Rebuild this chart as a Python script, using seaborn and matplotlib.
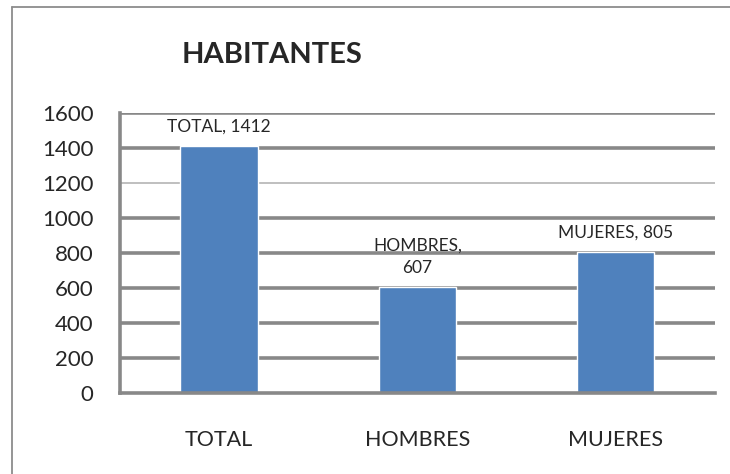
import matplotlib
matplotlib.use("Agg")
import matplotlib.pyplot as plt
from matplotlib.lines import Line2D
from matplotlib import font_manager
import seaborn as sns
import pandas as pd

categorias = ["TOTAL", "HOMBRES", "MUJERES"]
habitantes = [1412, 607, 805]
etiquetas = ["TOTAL, 1412", "HOMBRES,\n607", "MUJERES, 805"]
ticks_y = [0, 200, 400, 600, 800, 1000, 1200, 1400, 1600]

df = pd.DataFrame({"categoria": categorias, "habitantes": habitantes})

sns.set_style("white")
plt.rcParams["font.family"] = ["Lato", "DejaVu Sans"]

fig = plt.figure(figsize=(7.3, 4.74), dpi=100)
ax = fig.add_axes([0.1644, 0.1709, 0.815, 0.5907])

sns.barplot(ax=ax, data=df, x="categoria", y="habitantes", color="#4F81BD",
            width=0.39, saturation=1)

# lineas de la cuadricula (la de 1200 sale mas fina en el original)
for t in ticks_y[1:]:
    if t == 1200:
        ax.axhline(t, color="#b4b4b4", lw=1.2, zorder=0)
    else:
        ax.axhline(t, color="#888888", lw=2.6, zorder=0)

ax.set_ylim(0, 1600)
ax.set_xlim(-0.5, 2.5)
ax.set_yticks(ticks_y)
ax.set_yticklabels([str(t) for t in ticks_y], fontsize=16)
ax.tick_params(axis="y", length=0, pad=19)
ax.tick_params(axis="x", length=0, pad=27, labelsize=15.5)
ax.set_xlabel("")
ax.set_ylabel("")

for s in ["top", "right"]:
    ax.spines[s].set_visible(False)
for s in ["left", "bottom"]:
    ax.spines[s].set_color("#888888")
    ax.spines[s].set_linewidth(2.6)

for i, (v, txt) in enumerate(zip(habitantes, etiquetas)):
    ax.annotate(txt, xy=(i, v), xytext=(0, 8), textcoords="offset points",
                ha="center", va="bottom", fontsize=12.5, linespacing=1.5)

nombres = {f.name for f in font_manager.fontManager.ttflist}
if "Liberation Sans Narrow" in nombres:
    fam_titulo, tam_titulo = ["Liberation Sans Narrow"], 25
else:
    fam_titulo, tam_titulo = ["Lato"], 21
fig.text(272 / 730, 1 - 55 / 474, "HABITANTES", ha="center", va="center",
         fontsize=tam_titulo, fontweight="bold", family=fam_titulo)

# marco del grafico (solo se ven el borde izquierdo y el superior)
x0, y0 = 12 / 730, 1 - 7 / 474
fig.add_artist(Line2D([x0, x0], [0, y0], transform=fig.transFigure,
                      color="#8c8c8c", lw=1.3))
fig.add_artist(Line2D([x0, 1], [y0, y0], transform=fig.transFigure,
                      color="#8c8c8c", lw=1.3))

fig.savefig("out.png", dpi=100)
plt.close()
